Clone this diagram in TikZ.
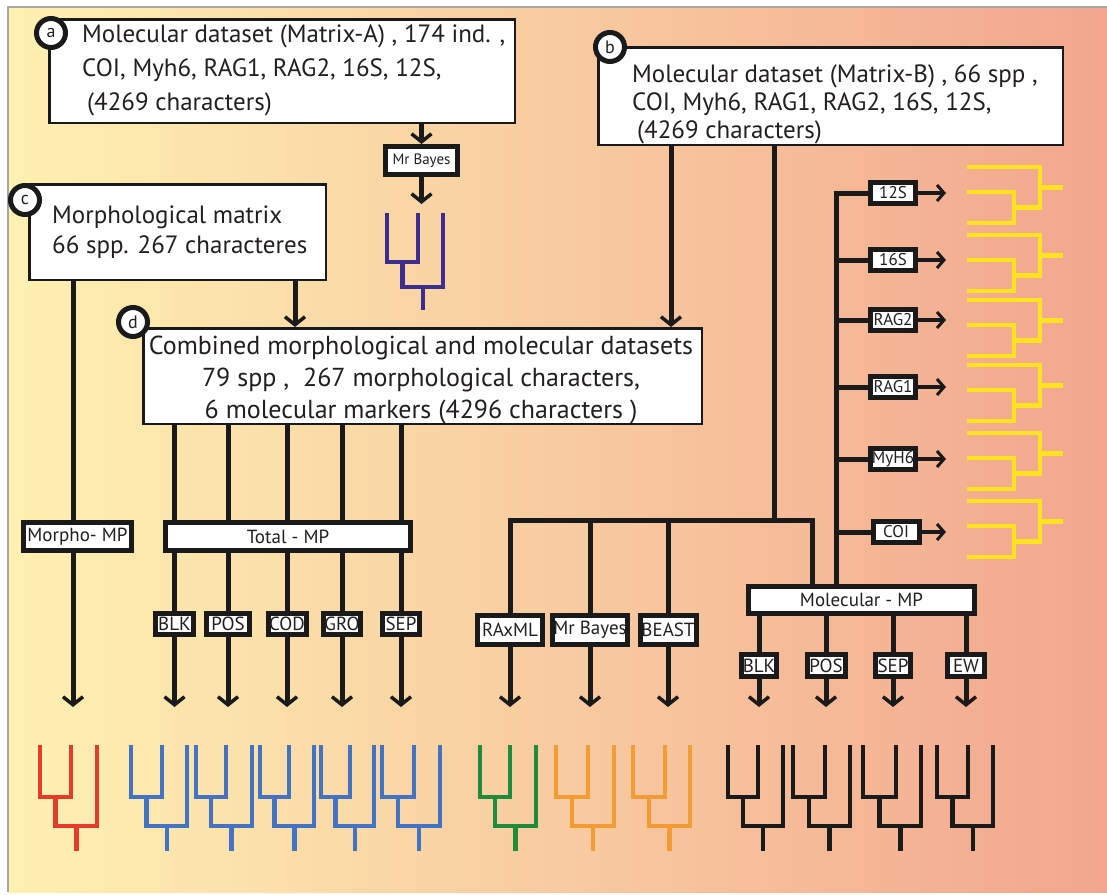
\documentclass[tikz,border=0pt]{standalone}
\usepackage{fontspec}
\setmainfont{PT Sans}
\usetikzlibrary{arrows.meta}
\pgfdeclarelayer{bgl}
\pgfdeclarelayer{lnl}
\pgfsetlayers{bgl,lnl,main}
\definecolor{bgL}{HTML}{FEF1B2}
\definecolor{bgM}{HTML}{F9D4A0}
\definecolor{bgR}{HTML}{F2A68E}
\definecolor{cRed}{HTML}{E63B2A}
\definecolor{cBlue}{HTML}{4373C2}
\definecolor{cGreen}{HTML}{1F8B3B}
\definecolor{cOrange}{HTML}{F39B34}
\definecolor{cPurple}{HTML}{3C2D8F}
\definecolor{cYellow}{HTML}{FFE31E}
\definecolor{cInk}{HTML}{1A1A1A}
\definecolor{cTxt}{HTML}{231F20}
% vertical tree: x0 x1 x2 yTop y1 y2 yRoot colour
\newcommand\vtr[8]{%
  \pgfmathsetmacro\tmA{(#1+#2)/2}%
  \pgfmathsetmacro\tmB{(\tmA+#3)/2}%
  \draw[treeline,#8] (#1,#4) -- (#1,#5) -- (#2,#5) -- (#2,#4);
  \draw[treeline,#8] (\tmA,#5) -- (\tmA,#6) -- (#3,#6) -- (#3,#4);
  \draw[treeline,#8] (\tmB,#6) -- (\tmB,#7);
}
\newcommand\bottr[4]{\vtr{#1}{#2}{#3}{745}{797}{826}{851}{#4}}
% horizontal yellow tree, argument = y of top tip
\newcommand\hytr[1]{%
  \pgfmathsetmacro\tyB{#1+25}%
  \pgfmathsetmacro\tyC{#1+56}%
  \pgfmathsetmacro\tyM{(\tyB+\tyC)/2}%
  \pgfmathsetmacro\tyR{(#1+\tyM)/2}%
  \draw[treeline,cYellow] (967,\tyB) -- (1014,\tyB) -- (1014,\tyC) -- (967,\tyC);
  \draw[treeline,cYellow] (1014,\tyM) -- (1040,\tyM) -- (1040,#1) -- (967,#1);
  \draw[treeline,cYellow] (1040,\tyR) -- (1063,\tyR);
}
\begin{document}
\begin{tikzpicture}[x=1pt,y=-1pt,
  conn/.style={line width=5pt, draw=cInk},
  arr/.style={conn, -{Straight Barb[length=8pt,width=20pt,line width=3.5pt]}},
  garr/.style={line width=4pt, draw=cInk, -{Straight Barb[length=7pt,width=16pt,line width=3pt]}},
  bigbox/.style={draw=cInk, line width=2.5pt, fill=white, inner sep=0pt},
  lab/.style={draw=cInk, line width=5pt, fill=white, inner sep=1pt, text=cTxt, font=\fontsize{19}{21}\selectfont},
  glab/.style={lab, font=\fontsize{17}{19}\selectfont, minimum width=45pt, minimum height=21pt},
  circ/.style={circle, draw=cInk, line width=5pt, fill=white, minimum size=29pt, inner sep=0pt, text=cTxt, font=\fontsize{18}{18}\selectfont},
  bigtxt/.style={inner sep=0pt, text=cTxt},
  treeline/.style={line width=4.5pt, line cap=butt, line join=miter}
]
\useasboundingbox (0,0) rectangle (1107,894);
\begin{pgfonlayer}{bgl}
  \fill[white] (0,0) rectangle (1107,894);
  \shade[left color=bgL, middle color=bgM, right color=bgR] (8,7) rectangle (1107,892);
  \draw[black!35, line width=1.5pt] (8,892) -- (8,7) -- (1107,7);
\end{pgfonlayer}

% ---- big boxes ----
\node[bigbox, minimum width=465.5pt, minimum height=103.5pt] (boxA) at (282,71) {};
\node[bigtxt, anchor=north west, align=left, font=\fontsize{25}{34}\selectfont] (txtA) at (82,24)
  {Molecular dataset (Matrix-A) , 174 ind. ,\\COI, Myh6, RAG1, RAG2, 16S, 12S,\\\hspace*{5pt}(4269 characters)};
\node[bigbox, minimum width=464.5pt, minimum height=97.5pt] (boxB) at (830.5,96) {};
\node[bigtxt, anchor=north west, align=left, font=\fontsize{25}{28}\selectfont] (txtB) at (632,64)
  {Molecular dataset (Matrix-B) , 66 spp ,\\COI, Myh6, RAG1, RAG2, 16S, 12S,\\\hspace*{5pt}(4269 characters)};
\node[bigbox, minimum width=296.5pt, minimum height=95.5pt] (boxC) at (177.5,232) {};
\node[bigtxt, anchor=north west, align=left, font=\fontsize{25}{30}\selectfont] (txtC) at (52,206)
  {Morphological matrix\\66 spp. 267 characteres};
\node[bigbox, minimum width=558.5pt, minimum height=95.5pt] (boxD) at (422.5,376) {};
\node[bigtxt, anchor=north, align=center, font=\fontsize{26}{32}\selectfont] (txtD) at (421,336)
  {Combined morphological and molecular datasets\\79 spp ,\ \ 267 morphological characters,\\6 molecular markers (4296 characters )};

% ---- small label boxes ----
\node[lab, font=\fontsize{15}{16}\selectfont, minimum width=72pt, minimum height=28pt] (mbA) at (421.5,160.5) {Mr Bayes};
\node[lab, minimum width=108pt, minimum height=28pt] (morpho) at (77.5,536.5) {Morpho- MP};
\node[lab, minimum width=245pt, minimum height=28pt] (totmp) at (288,536.5) {Total - MP};
\node[lab, minimum width=38pt, minimum height=21pt] (tblk) at (174.5,624) {BLK};
\node[lab, minimum width=43pt, minimum height=21pt] (tpos) at (228,624) {POS};
\node[lab, minimum width=38pt, minimum height=21pt] (tcod) at (287,624) {COD};
\node[lab, minimum width=37pt, minimum height=21pt] (tgro) at (342,624) {GRO};
\node[lab, minimum width=37pt, minimum height=21pt] (tsep) at (401,624) {SEP};
\node[lab, minimum width=65pt, minimum height=29pt] (raxml) at (510,630) {RAxML};
\node[lab, minimum width=71pt, minimum height=29pt] (mbB) at (590,630) {Mr Bayes};
\node[lab, minimum width=56pt, minimum height=29pt] (beast) at (668,630) {BEAST};
\node[lab, minimum width=226pt, minimum height=27pt] (molmp) at (861.5,600) {Molecular - MP};
\node[lab, minimum width=33pt, minimum height=22pt] (mblk) at (759,665.5) {BLK};
\node[lab, minimum width=38pt, minimum height=22pt] (mpos) at (826,665.5) {POS};
\node[lab, minimum width=35pt, minimum height=22pt] (msep) at (893,665.5) {SEP};
\node[lab, minimum width=37pt, minimum height=22pt] (mew) at (966,665.5) {EW};
\node[glab] (g12) at (893,193) {12S};
\node[glab] (g16) at (893,260) {16S};
\node[glab] (gr2) at (893,320) {RAG2};
\node[glab] (gr1) at (893,387) {RAG1};
\node[glab] (gmy) at (893,459) {MyH6};
\node[glab, minimum width=46pt] (gcoi) at (896,532) {COI};

% ---- circled letters ----
\node[circ] (ca) at (51,33) {a};
\node[circ] (cb) at (610,47) {b};
\node[circ] (cc) at (25,200) {c};
\node[circ] (cdd) at (133,322) {d};

% ---- coordinates ----
\coordinate (tEnd) at (0,707);
\coordinate (gEnd) at (946,0);
\coordinate (xBD) at (671,0);
\coordinate (xBar) at (774,0);
\coordinate (barR) at (812,520);
\coordinate (xSp) at (836,0);
\coordinate (xM) at (73,0);
\coordinate (xCD) at (295,0);
\coordinate (pEnd) at (421.5,204);

% ---- connectors ----
\begin{pgfonlayer}{lnl}
  \draw[arr] (boxA.south -| mbA) -- (mbA.north);
  \draw[arr] (mbA.south) -- (pEnd);
  \draw[arr] (boxB.south -| xBD) -- (boxD.north -| xBD);
  \draw[conn] (boxB.south -| xBar) -- (xBar |- barR);
  \draw[conn] (raxml.north) |- (barR) -- (molmp.north -| barR);
  \draw[conn] (mbB |- barR) -- (mbB.north);
  \draw[conn] (beast |- barR) -- (beast.north);
  \foreach \n in {raxml,mbB,beast} {\draw[arr] (\n.south) -- (\n |- tEnd);}
  \draw[conn] (molmp.north -| xSp) |- (g12.west);
  \foreach \n in {g16,gr2,gr1,gmy,gcoi} {\draw[conn] (\n -| xSp) -- (\n.west);}
  \foreach \n in {g12,g16,gr2,gr1,gmy,gcoi} {\draw[garr] (\n.east) -- (\n.east -| gEnd);}
  \draw[conn] (boxC.south -| xM) -- (morpho.north -| xM);
  \draw[arr] (morpho.south -| xM) -- (xM |- tEnd);
  \draw[arr] (boxC.south -| xCD) -- (boxD.north -| xCD);
  \foreach \n in {tblk,tpos,tcod,tgro,tsep} {
    \draw[conn] (boxD.south -| \n) -- (\n.north);
    \draw[arr] (\n.south) -- (\n |- tEnd);
  }
  \foreach \n in {mblk,mpos,msep,mew} {
    \draw[conn] (molmp.south -| \n) -- (\n.north);
    \draw[arr] (\n.south) -- (\n |- tEnd);
  }
\end{pgfonlayer}

% ---- trees ----
\vtr{387}{418}{443}{213}{262}{287}{310}{cPurple}
\bottr{40}{71}{97}{cRed}
\bottr{131}{162}{187}{cBlue}
\bottr{196}{226}{252}{cBlue}
\bottr{260}{289}{314}{cBlue}
\bottr{321}{350}{374}{cBlue}
\bottr{382}{414}{440}{cBlue}
\bottr{480}{510}{536}{cGreen}
\bottr{556}{588}{614}{cOrange}
\bottr{633}{665}{690}{cOrange}
\bottr{728}{758}{783}{cInk}
\bottr{793}{825}{850}{cInk}
\bottr{863}{896}{921}{cInk}
\bottr{937}{968}{993}{cInk}
\hytr{167}
\hytr{235}
\hytr{300}
\hytr{365}
\hytr{433}
\hytr{501}
\end{tikzpicture}
\end{document}
